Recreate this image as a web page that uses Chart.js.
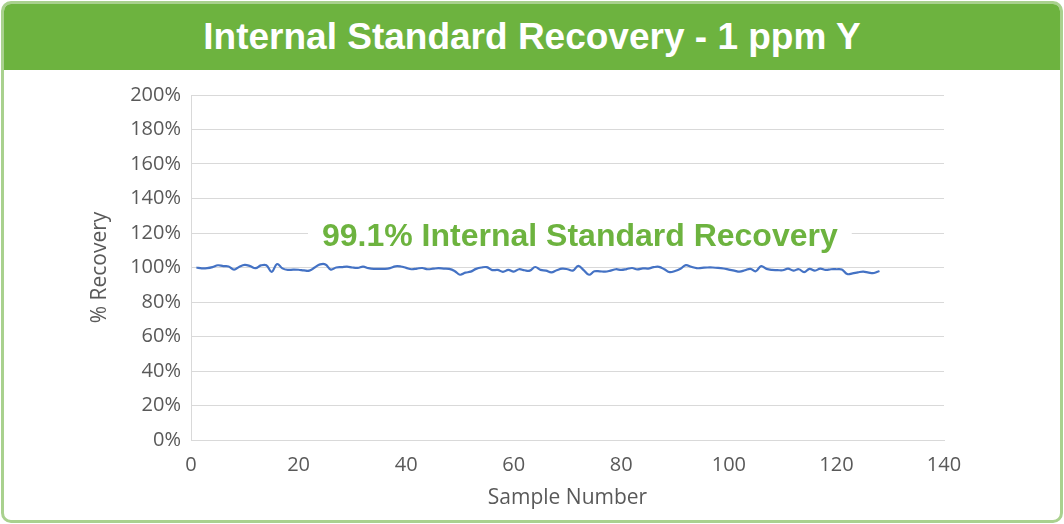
<!DOCTYPE html>
<html lang="en">
<head>
    <meta charset="UTF-8">
    <title>Internal Standard Recovery - 1 ppm Y</title>
    <script src="https://cdn.jsdelivr.net/npm/chart.js"></script>
    <style>
        html, body { margin: 0; padding: 0; background: #fff; }
        .frame {
            position: absolute; left: 1px; top: 1px; width: 1056px; height: 516px;
            border: 3px solid #a9d18e; border-radius: 10px; overflow: hidden; background: #fff;
        }
        .header {
            height: 66px; background: #6db33f; color: #fff;
            font: bold 37px "Liberation Sans", Arial, sans-serif;
            text-align: center; line-height: 66px;
        }
        .chart-box { position: absolute; left: 2px; top: 66px; width: 1053px; height: 450px; }
    </style>
</head>
<body>
    <div class="frame">
        <div class="header">Internal Standard Recovery - 1 ppm Y</div>
        <div class="chart-box"><canvas id="recoveryGraph"></canvas></div>
    </div>

    <script>
        // % recovery per sample (samples 1..128)
        const recovery = [
            100.0, 99.5, 99.6, 100.2, 101.3, 100.8, 100.6, 98.8, 100.5, 101.5,
            100.8, 99.6, 101.2, 101.3, 97.5, 102.0, 99.5, 98.6, 98.8, 98.7,
            98.3, 98.2, 100.0, 101.8, 101.8, 98.8, 100.0, 100.2, 100.5, 100.0,
            99.8, 100.5, 99.6, 99.2, 99.2, 99.2, 99.6, 100.7, 100.6, 99.8,
            99.0, 99.4, 99.7, 99.0, 99.3, 99.6, 99.4, 99.2, 98.0, 95.8,
            97.0, 97.6, 99.2, 100.0, 100.2, 98.5, 98.6, 97.5, 98.6, 97.6,
            99.0, 98.4, 98.2, 100.3, 98.6, 98.2, 97.2, 98.4, 99.3, 99.0,
            98.2, 100.9, 98.5, 95.8, 97.8, 97.8, 97.6, 98.2, 99.0, 98.6,
            99.1, 99.7, 98.9, 99.5, 99.4, 100.2, 100.4, 99.0, 97.3, 98.0,
            99.3, 101.4, 100.4, 99.6, 99.8, 100.0, 100.0, 99.8, 99.4, 98.8,
            98.2, 97.6, 98.4, 99.2, 97.8, 100.8, 99.2, 98.6, 98.5, 98.4,
            99.3, 98.2, 99.0, 97.3, 99.2, 98.2, 99.4, 98.6, 99.0, 99.0,
            98.8, 96.2, 96.6, 97.2, 97.6, 97.0, 96.8, 98.0
        ];
        const sampleNumbers = recovery.map((v, i) => i + 1);
        const averageLabel = '99.1% Internal Standard Recovery';

        const grey = '#595959';
        const tickFont = { family: '"Open Sans", Lato, sans-serif', size: 20 };
        const titleFont = { family: '"Open Sans", Lato, sans-serif', size: 21 };

        // big green note in the middle of the plot, with white box behind it
        const notePlugin = {
            id: 'note',
            afterDatasetsDraw(chart) {
                const { ctx, scales } = chart;
                const x = scales.x.getPixelForValue(72.3);
                const y = scales.y.getPixelForValue(117.5);
                ctx.save();
                ctx.font = 'bold 32px "Liberation Sans", Arial, sans-serif';
                const w = ctx.measureText(averageLabel).width;
                ctx.fillStyle = '#fff';
                ctx.fillRect(x - w / 2 - 14, y - 20, w + 28, 40);
                ctx.fillStyle = '#6db33f';
                ctx.textAlign = 'center';
                ctx.textBaseline = 'middle';
                ctx.fillText(averageLabel, x, y);
                ctx.restore();
            }
        };

        new Chart(document.getElementById('recoveryGraph'), {
            type: 'line',
            data: {
                labels: sampleNumbers,
                datasets: [{
                    label: '% Recovery',
                    data: recovery.map((v, i) => ({ x: sampleNumbers[i], y: v })),
                    borderColor: '#4472c4',
                    borderWidth: 2.2,
                    pointRadius: 0,
                    tension: 0.4,
                    fill: false
                }]
            },
            options: {
                responsive: true,
                maintainAspectRatio: false,
                animation: false,
                layout: { padding: { left: 0, top: 25, right: 115, bottom: 0 } },
                plugins: {
                    legend: { display: false },
                    tooltip: { enabled: false }
                },
                scales: {
                    x: {
                        type: 'linear',
                        min: 0, max: 140,
                        grid: { display: false, drawTicks: false },
                        border: { color: '#d9d9d9' },
                        ticks: { stepSize: 20, color: grey, font: tickFont, padding: 13 },
                        title: { display: true, text: 'Sample Number', color: grey, font: titleFont, padding: { top: 0, bottom: 9 } },
                        afterFit(scale) { scale.height = 80; }
                    },
                    y: {
                        min: 0, max: 200,
                        grid: { color: '#d9d9d9', drawTicks: false },
                        border: { color: '#d9d9d9' },
                        ticks: { stepSize: 20, color: grey, font: tickFont, padding: 10, callback: v => v + '%' },
                        title: { display: true, text: '% Recovery', color: grey, font: titleFont, padding: { top: 81, bottom: 0 } },
                        afterFit(scale) { scale.width = 185; }
                    }
                }
            },
            plugins: [notePlugin]
        });
    </script>
</body>
</html>
